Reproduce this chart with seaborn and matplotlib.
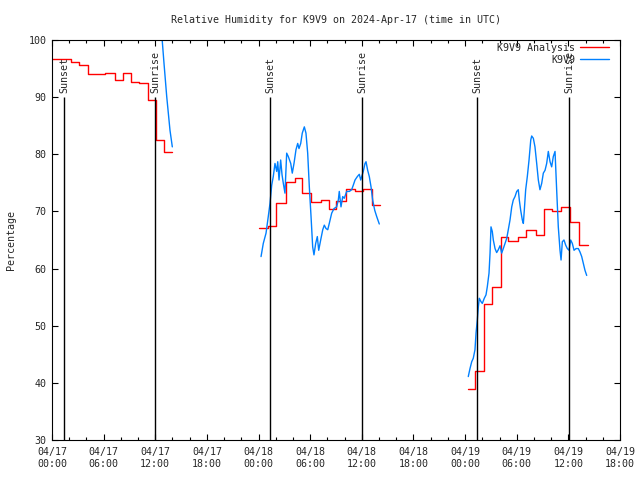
import numpy as np
import pandas as pd
import matplotlib
matplotlib.use("Agg")
import matplotlib.pyplot as plt
import seaborn as sns
from matplotlib.lines import Line2D
from matplotlib.ticker import MultipleLocator

# time axis = hours since 04/17 00:00 UTC

# K9V9 Analysis (red), stepped hourly values, 3 segments
ana_t1 = [0.0, 2.2, 3.1, 4.2, 6.2, 7.3, 8.2, 9.2, 10.1, 11.2, 12.1, 13.0, 13.9]
ana_v1 = [96.6, 96.1, 95.7, 94.0, 94.3, 93.0, 94.3, 92.7, 92.4, 89.5, 82.5, 80.4, 80.4]
ana_t2 = [24.0, 25.1, 26.0, 27.2, 28.2, 29.0, 30.1, 31.3, 32.2, 33.0, 34.2, 35.2, 36.1, 37.2, 38.1]
ana_v2 = [67.1, 67.4, 71.5, 75.1, 75.8, 73.2, 71.6, 72.0, 70.5, 71.8, 74.0, 73.6, 74.0, 71.2, 71.2]
ana_t3 = [48.3, 49.1, 50.2, 51.1, 52.2, 53.0, 54.1, 55.1, 56.2, 57.2, 58.1, 59.1, 60.2, 61.2, 62.3]
ana_v3 = [38.9, 42.1, 53.8, 56.7, 65.5, 64.9, 65.6, 66.8, 65.9, 70.4, 70.0, 70.7, 68.2, 64.1, 64.1]

# K9V9 observations (blue), 3 segments
obs_t1 = [12.7, 13.01, 13.33, 13.71, 13.98]
obs_v1 = [102.0, 96.0, 90.1, 84.2, 81.3]
obs_t2 = [24.29, 24.55, 24.87, 25.13, 25.33, 25.53, 25.71, 25.91, 26.11, 26.23,
          26.38, 26.57, 26.73, 26.88, 27.07, 27.27, 27.46, 27.74, 27.92, 28.12,
          28.35, 28.55, 28.70, 28.90, 29.08, 29.32, 29.51, 29.71, 29.90, 30.10,
          30.29, 30.44, 30.64, 30.83, 30.99, 31.22, 31.46, 31.64, 31.84, 32.04,
          32.22, 32.50, 32.77, 33.08, 33.27, 33.38, 33.58, 33.78, 33.96, 34.24,
          34.55, 34.82, 35.01, 35.21, 35.48, 35.71, 35.87, 36.17, 36.37, 36.49,
          36.68, 36.87, 37.07, 37.26, 37.50, 37.73, 38.03]
obs_v2 = [62.1, 64.4, 66.2, 69.1, 71.4, 74.6, 76.1, 78.4, 77.0, 78.7,
          75.5, 79.0, 76.4, 74.9, 73.2, 80.2, 79.6, 78.4, 76.7, 78.4,
          80.8, 81.9, 81.0, 81.9, 83.7, 84.8, 83.7, 80.2, 74.3, 69.1,
          63.8, 62.4, 64.4, 65.6, 63.2, 65.0, 66.8, 67.6, 67.0, 66.8,
          67.9, 69.7, 70.5, 70.8, 72.0, 73.5, 70.8, 72.6, 72.3, 73.5,
          73.5, 73.8, 74.6, 75.5, 76.1, 76.5, 75.5, 77.0, 78.4, 78.7,
          77.2, 76.1, 74.3, 72.0, 70.2, 69.1, 67.8]
obs_t3 = [48.37, 48.57, 48.77, 48.95, 49.15, 49.27, 49.42, 49.54, 49.65, 49.85,
          50.00, 50.23, 50.43, 50.58, 50.78, 50.90, 51.01, 51.16, 51.28, 51.48,
          51.67, 51.86, 52.06, 52.25, 52.44, 52.64, 52.84, 53.02, 53.22, 53.42,
          53.60, 53.80, 54.00, 54.18, 54.30, 54.46, 54.65, 54.77, 54.88, 55.04,
          55.23, 55.43, 55.63, 55.74, 55.93, 56.12, 56.32, 56.51, 56.70, 56.90,
          57.09, 57.29, 57.48, 57.67, 57.87, 58.06, 58.25, 58.45, 58.64, 58.83,
          59.03, 59.15, 59.30, 59.49, 59.69, 59.88, 60.08, 60.27, 60.46, 60.66,
          60.89, 61.16, 61.35, 61.55, 61.74, 61.93, 62.13]
obs_v3 = [41.1, 42.5, 43.7, 44.3, 45.8, 48.7, 51.0, 53.3, 54.8, 54.2,
          53.9, 54.8, 55.4, 56.8, 59.2, 62.7, 67.3, 66.5, 65.0, 63.5,
          62.8, 63.3, 64.0, 62.7, 63.5, 64.4, 65.3, 66.8, 68.5, 70.8,
          72.0, 72.6, 73.5, 73.8, 72.0, 70.2, 68.5, 67.9, 70.2, 73.8,
          76.1, 79.0, 82.5, 83.2, 82.8, 81.3, 78.4, 75.5, 73.8, 74.9,
          76.7, 77.2, 78.4, 80.5, 78.7, 77.8, 79.6, 80.5, 73.8, 67.3,
          63.2, 61.5, 64.7, 65.0, 64.1, 63.5, 63.2, 65.0, 64.4, 63.2,
          63.5, 63.5, 62.9, 62.1, 60.9, 59.7, 58.8]

sunset_t = [1.38, 25.33, 49.38]
sunrise_t = [11.97, 36.02, 60.07]

tick_hours = [0, 6, 12, 18, 24, 30, 36, 42, 48, 54, 60, 66]
tick_labels = ["04/17\n00:00", "04/17\n06:00", "04/17\n12:00", "04/17\n18:00",
               "04/18\n00:00", "04/18\n06:00", "04/18\n12:00", "04/18\n18:00",
               "04/19\n00:00", "04/19\n06:00", "04/19\n12:00", "04/19\n18:00"]


def to_frame(segs):
    rows = []
    for i, (t, v) in enumerate(segs):
        rows.append(pd.DataFrame({"t": t, "rh": v, "seg": i}))
    return pd.concat(rows, ignore_index=True)


ana = to_frame([(ana_t1, ana_v1), (ana_t2, ana_v2), (ana_t3, ana_v3)])
obs = to_frame([(obs_t1, obs_v1), (obs_t2, obs_v2), (obs_t3, obs_v3)])

sns.set_style("ticks")
plt.rcParams["font.family"] = ["DejaVu Sans Mono", "DejaVu Sans"]
fs = 7.2

fig = plt.figure(figsize=(6.4, 4.8), dpi=100)
ax = fig.add_axes([52 / 640, 40 / 480, 568 / 640, 400 / 480])

red = "#ff0000"
blue = "#0080ff"
sns.lineplot(data=ana, x="t", y="rh", units="seg", estimator=None, color=red,
             linewidth=1.0, drawstyle="steps-post", ax=ax, legend=False)
sns.lineplot(data=obs, x="t", y="rh", units="seg", estimator=None, color=blue,
             linewidth=1.0, ax=ax, legend=False)

# sunrise / sunset markers
for t in sunset_t:
    ax.vlines(t, 30, 90, color="black", linewidth=1.0)
    ax.text(t, 90.8, "Sunset", rotation=90, ha="center", va="bottom", fontsize=fs)
for t in sunrise_t:
    ax.vlines(t, 30, 90, color="black", linewidth=1.0)
    ax.text(t, 90.8, "Sunrise", rotation=90, ha="center", va="bottom", fontsize=fs)

ax.set_xlim(0, 66)
ax.set_ylim(30, 100)
ax.set_xticks(tick_hours)
ax.set_xticklabels(tick_labels, fontsize=fs)
ax.xaxis.set_minor_locator(MultipleLocator(2))
ax.set_yticks(range(30, 101, 10))
ax.tick_params(axis="y", labelsize=fs)
ax.tick_params(which="both", direction="in", top=True, right=True, width=0.8,
               color="black")
ax.tick_params(which="major", length=4.5)
ax.tick_params(which="minor", length=2.2)
ax.tick_params(axis="x", pad=5)
ax.tick_params(axis="y", pad=4)
for s in ax.spines.values():
    s.set_color("black")
    s.set_linewidth(0.8)

ax.set_xlabel("")
ax.set_ylabel("Percentage", fontsize=fs, labelpad=9)
ax.set_title("Relative Humidity for K9V9 on 2024-Apr-17 (time in UTC)",
             fontsize=fs, pad=12)

handles = [Line2D([], [], color=red, linewidth=1.0),
           Line2D([], [], color=blue, linewidth=1.0)]
ax.legend(handles, ["K9V9 Analysis", "K9V9"], loc="upper right", frameon=False,
          markerfirst=False, fontsize=fs, handlelength=2.9, handletextpad=0.5,
          labelspacing=0.2, borderpad=0.1, borderaxespad=0,
          bbox_to_anchor=(0.983, 0.995))

fig.savefig("out.png", dpi=100)
